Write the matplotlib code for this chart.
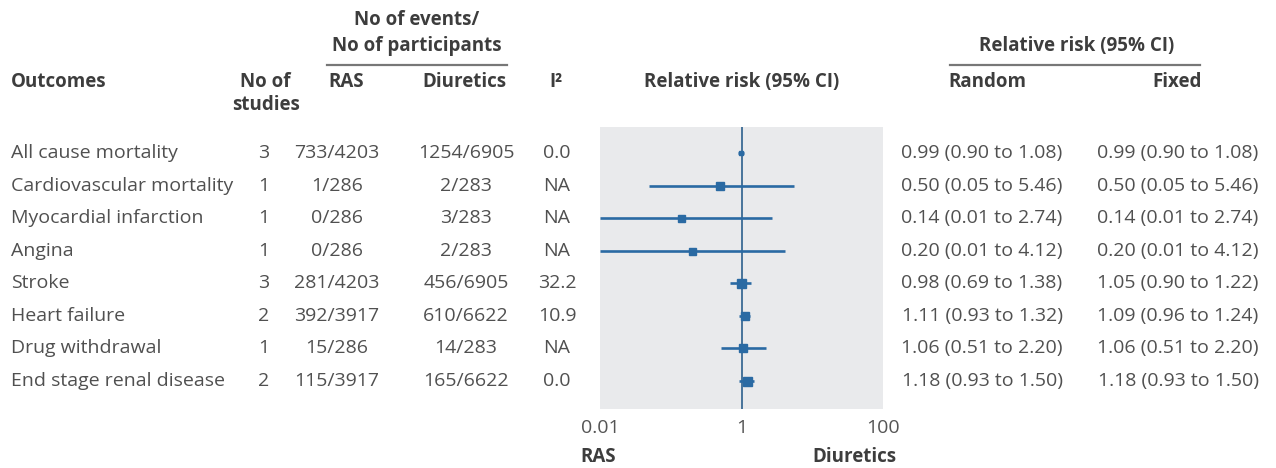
import matplotlib
matplotlib.use("Agg")
import matplotlib.pyplot as plt
import matplotlib.transforms as mtransforms
import numpy as np

plt.rcParams['font.family'] = ['Open Sans', 'DejaVu Sans']

outcomes = ["All cause mortality", "Cardiovascular mortality", "Myocardial infarction",
            "Angina", "Stroke", "Heart failure", "Drug withdrawal", "End stage renal disease"]
n_studies = [3, 1, 1, 1, 3, 2, 1, 2]
ras_events = ["733/4203", "1/286", "0/286", "0/286", "281/4203", "392/3917", "15/286", "115/3917"]
diu_events = ["1254/6905", "2/283", "3/283", "2/283", "456/6905", "610/6622", "14/283", "165/6622"]
i2 = ["0.0", "NA", "NA", "NA", "32.2", "10.9", "NA", "0.0"]
rr_random = [0.99, 0.50, 0.14, 0.20, 0.98, 1.11, 1.06, 1.18]
lo_random = [0.90, 0.05, 0.01, 0.01, 0.69, 0.93, 0.51, 0.93]
hi_random = [1.08, 5.46, 2.74, 4.12, 1.38, 1.32, 2.20, 1.50]
rr_fixed = [0.99, 0.50, 0.14, 0.20, 1.05, 1.09, 1.06, 1.18]
lo_fixed = [0.90, 0.05, 0.01, 0.01, 0.90, 0.96, 0.51, 0.93]
hi_fixed = [1.08, 5.46, 2.74, 4.12, 1.22, 1.24, 2.20, 1.50]

W, H = 1276, 468
fig = plt.figure(figsize=(W / 100, H / 100), dpi=100)

# forest panel, placed in pixel terms
ax = fig.add_axes([600 / W, 1 - 409 / H, 283 / W, 282 / H])
ax.set_facecolor('#e9eaec')
for s in ax.spines.values():
    s.set_visible(False)
ax.set_xscale('log')
ax.set_xlim(0.01, 100)
ax.set_ylim(len(outcomes) - 1 + 0.86, -0.8)
ax.set_yticks([])
ax.set_xticks([0.01, 1, 100])
ax.set_xticklabels(["0.01", "1", "100"])
ax.xaxis.set_minor_locator(matplotlib.ticker.NullLocator())
ax.tick_params(axis='x', length=0, pad=7, labelsize=14, labelcolor='#555555')

blue = '#2a6aa3'
box_px = [4, 8, 7, 7, 9, 8, 8, 9]
ax.axvline(1, color='#2c5f8c', lw=1.2, zorder=2)
y = np.arange(len(outcomes))
for i in range(len(outcomes)):
    ax.plot([max(lo_random[i], 0.01), hi_random[i]], [y[i], y[i]], color=blue, lw=1.9,
            solid_capstyle='butt', zorder=3, clip_on=True)
    ax.plot(rr_random[i], y[i], marker='s', ms=box_px[i] * 0.72, color=blue, mec=blue, zorder=4)

def fx(px):
    return px / W

def fy(py):
    return 1 - py / H

rowtr = mtransforms.blended_transform_factory(fig.transFigure, ax.transData)
dcol = '#505050'
fs = 14
for i in range(len(outcomes)):
    fig.text(fx(11), y[i], outcomes[i], transform=rowtr, ha='left', va='center', fontsize=fs, color=dcol)
    fig.text(fx(264), y[i], str(n_studies[i]), transform=rowtr, ha='center', va='center', fontsize=fs, color=dcol)
    fig.text(fx(337), y[i], ras_events[i], transform=rowtr, ha='center', va='center', fontsize=fs, color=dcol)
    fig.text(fx(466), y[i], diu_events[i], transform=rowtr, ha='center', va='center', fontsize=fs, color=dcol)
    fig.text(fx(557), y[i], i2[i], transform=rowtr, ha='center', va='center', fontsize=fs, color=dcol)
    fig.text(fx(982), y[i], "%.2f (%.2f to %.2f)" % (rr_random[i], lo_random[i], hi_random[i]),
             transform=rowtr, ha='center', va='center', fontsize=fs, color=dcol)
    fig.text(fx(1178), y[i], "%.2f (%.2f to %.2f)" % (rr_fixed[i], lo_fixed[i], hi_fixed[i]),
             transform=rowtr, ha='center', va='center', fontsize=fs, color=dcol)

# headers
hcol = '#3d3d3d'
hk = dict(fontsize=13.5, color=hcol, fontweight='bold', va='center')
fig.text(fx(417), fy(20), "No of events/", ha='center', **hk)
fig.text(fx(417), fy(46), "No of participants", ha='center', **hk)
fig.add_artist(plt.Line2D([fx(327), fx(507)], [fy(65), fy(65)], color='#777777', lw=1.6))
fig.text(fx(11), fy(82), "Outcomes", ha='left', **hk)
fig.text(fx(265), fy(82), "No of", ha='center', **hk)
fig.text(fx(266), fy(105), "studies", ha='center', **hk)
fig.text(fx(328), fy(82), "RAS", ha='left', **hk)
fig.text(fx(507), fy(82), "Diuretics", ha='right', **hk)
fig.text(fx(549), fy(82), "I²", ha='left', **hk)
fig.text(fx(742), fy(82), "Relative risk (95% CI)", ha='center', **hk)
fig.text(fx(1077), fy(46), "Relative risk (95% CI)", ha='center', **hk)
fig.add_artist(plt.Line2D([fx(950), fx(1200)], [fy(65), fy(65)], color='#777777', lw=1.6))
fig.text(fx(948), fy(82), "Random", ha='left', **hk)
fig.text(fx(1202), fy(82), "Fixed", ha='right', **hk)
fig.text(fx(580), fy(457), "RAS", ha='left', **hk)
fig.text(fx(897), fy(457), "Diuretics", ha='right', **hk)

plt.savefig('out.png', dpi=100)
plt.close()
